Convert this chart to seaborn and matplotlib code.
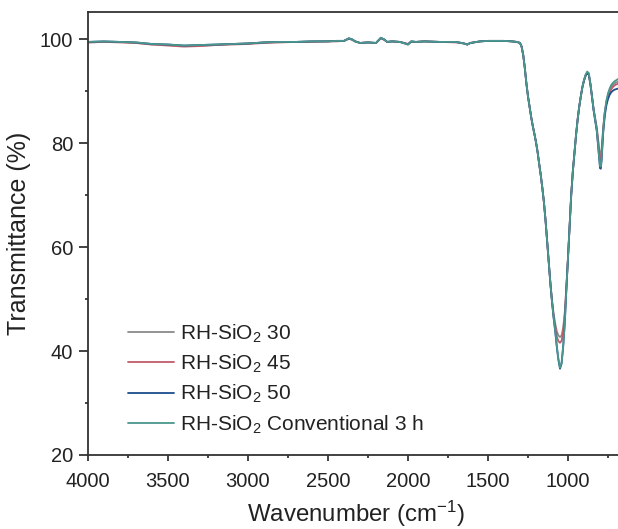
import numpy as np
import pandas as pd
import matplotlib
matplotlib.use("Agg")
import matplotlib.pyplot as plt
import seaborn as sns

# ---- data ----
wavenumber = [4000, 3900, 3800, 3700, 3600, 3500, 3400, 3300, 3200, 3100, 3000,
              2900, 2800, 2700, 2600, 2500, 2450, 2400, 2370, 2350, 2330, 2300,
              2250, 2200, 2170, 2150, 2130, 2100, 2050, 2000, 1980, 1950, 1900,
              1800, 1700, 1650, 1630, 1610, 1550, 1500, 1450, 1400, 1350, 1320,
              1300, 1290, 1280, 1270, 1260, 1250, 1240, 1230, 1220, 1210, 1200,
              1190, 1180, 1170, 1160, 1150, 1140, 1130, 1120, 1110, 1100, 1090,
              1080, 1070, 1060, 1050, 1040, 1030, 1020, 1010, 1000, 990, 980,
              970, 960, 950, 940, 930, 920, 910, 900, 890, 880, 870, 860, 850,
              840, 830, 820, 810, 800, 795, 790, 780, 770, 760, 750, 740, 730,
              720, 710, 700, 690, 685]

base_teal = [99.5, 99.6, 99.5, 99.4, 99.1, 99.0, 98.8, 98.9, 99.0, 99.1, 99.2,
             99.4, 99.5, 99.5, 99.6, 99.6, 99.7, 99.7, 100.2, 100.0, 99.6, 99.3,
             99.4, 99.3, 100.3, 100.0, 99.5, 99.6, 99.5, 99.0, 99.6, 99.5, 99.6,
             99.5, 99.5, 99.2, 99.0, 99.3, 99.6, 99.7, 99.7, 99.7, 99.6, 99.5,
             99.3, 98.6, 97.0, 94.5, 91.5, 89.0, 87.0, 85.0, 83.3, 81.8, 80.2,
             78.3, 76.0, 73.8, 71.3, 68.5, 65.0, 61.0, 57.0, 53.0, 49.5, 46.5,
             44.0, 41.0, 38.5, 36.8, 37.8, 41.0, 45.5, 52.0, 58.0, 64.0, 70.0,
             74.5, 78.0, 81.5, 84.5, 87.0, 89.0, 90.8, 92.2, 93.2, 93.8, 93.5,
             91.5, 89.0, 86.5, 84.5, 82.5, 79.0, 75.6, 75.5, 77.0, 82.5, 86.0,
             88.2, 89.6, 90.5, 91.2, 91.6, 91.9, 92.1, 92.3, 92.4]

rh30 = [99.4, 99.5, 99.5, 99.3, 99.0, 98.9, 98.7, 98.8, 98.9, 99.1, 99.2,
        99.4, 99.5, 99.5, 99.6, 99.6, 99.7, 99.7, 100.1, 100.0, 99.6, 99.3,
        99.4, 99.3, 100.2, 100.0, 99.5, 99.6, 99.5, 99.1, 99.6, 99.5, 99.6,
        99.5, 99.5, 99.2, 99.0, 99.3, 99.6, 99.7, 99.7, 99.7, 99.6, 99.5,
        99.3, 98.6, 97.0, 94.5, 91.5, 89.0, 87.0, 85.0, 83.3, 81.8, 80.2,
        78.3, 76.0, 73.8, 71.3, 68.5, 65.0, 61.0, 57.0, 53.0, 49.8, 47.2,
        45.3, 43.8, 43.0, 42.7, 43.0, 44.5, 47.5, 52.5, 58.0, 64.0, 70.0,
        74.5, 78.0, 81.5, 84.5, 87.0, 89.0, 90.8, 92.0, 93.0, 93.5, 93.2,
        91.4, 89.0, 86.6, 84.8, 83.0, 80.3, 77.7, 77.6, 78.8, 83.0, 86.0,
        88.0, 89.3, 90.2, 90.8, 91.2, 91.5, 91.7, 91.8, 91.9]

rh45 = [99.4, 99.5, 99.4, 99.3, 99.0, 98.8, 98.6, 98.7, 98.9, 99.0, 99.1,
        99.3, 99.4, 99.5, 99.5, 99.6, 99.6, 99.7, 100.1, 99.9, 99.6, 99.3,
        99.4, 99.3, 100.2, 99.9, 99.5, 99.6, 99.5, 99.1, 99.5, 99.5, 99.6,
        99.5, 99.4, 99.2, 99.0, 99.3, 99.6, 99.7, 99.7, 99.7, 99.6, 99.5,
        99.3, 98.6, 97.0, 94.5, 91.5, 89.0, 87.0, 85.0, 83.3, 81.8, 80.2,
        78.3, 76.0, 73.8, 71.3, 68.5, 65.0, 61.0, 57.0, 53.0, 49.6, 46.8,
        44.7, 42.8, 41.9, 41.6, 42.0, 43.8, 47.0, 52.3, 58.0, 64.0, 70.0,
        74.5, 78.0, 81.5, 84.5, 87.0, 89.0, 90.8, 92.1, 93.1, 93.6, 93.3,
        91.4, 89.0, 86.5, 84.6, 82.7, 79.8, 76.6, 76.5, 78.0, 82.8, 85.9,
        87.7, 89.0, 89.8, 90.4, 90.8, 91.1, 91.3, 91.4, 91.5]

rh50 = [99.5, 99.6, 99.5, 99.4, 99.1, 99.0, 98.8, 98.9, 99.0, 99.1, 99.2,
        99.4, 99.5, 99.5, 99.6, 99.6, 99.7, 99.7, 100.2, 100.0, 99.6, 99.3,
        99.4, 99.3, 100.3, 100.0, 99.5, 99.6, 99.5, 99.0, 99.6, 99.5, 99.6,
        99.5, 99.5, 99.2, 99.0, 99.3, 99.6, 99.7, 99.7, 99.7, 99.6, 99.5,
        99.3, 98.6, 97.0, 94.5, 91.5, 89.0, 87.0, 85.0, 83.3, 81.8, 80.2,
        78.3, 76.0, 73.8, 71.3, 68.5, 65.0, 61.0, 57.0, 53.0, 49.5, 46.4,
        43.8, 40.8, 38.3, 36.6, 37.6, 40.9, 45.4, 52.0, 58.0, 64.0, 70.0,
        74.5, 78.0, 81.5, 84.5, 87.0, 89.0, 90.8, 92.1, 93.0, 93.5, 93.2,
        91.3, 88.9, 86.3, 84.3, 82.3, 78.8, 75.2, 75.1, 76.7, 82.0, 85.3,
        87.3, 88.5, 89.3, 89.8, 90.1, 90.3, 90.4, 90.5, 90.5]

series_names = ["RH-SiO$_2$ 30", "RH-SiO$_2$ 45", "RH-SiO$_2$ 50",
                "RH-SiO$_2$ Conventional 3 h"]
series_values = [rh30, rh45, rh50, base_teal]
colors = ["#8a8a8a", "#c25a6a", "#1d4d8c", "#4a978e"]

x_ticks = [4000, 3500, 3000, 2500, 2000, 1500, 1000]
y_ticks = [20, 40, 60, 80, 100]

frames = []
for name, vals in zip(series_names, series_values):
    frames.append(pd.DataFrame({"wavenumber": wavenumber, "T": vals, "sample": name}))
df = pd.concat(frames, ignore_index=True)

sns.set_style("ticks")
plt.rcParams["font.family"] = ["Liberation Sans", "DejaVu Sans"]
plt.rcParams["mathtext.default"] = "regular"

fig = plt.figure(figsize=(6.18, 5.29), dpi=100)
W, H = 618, 529
left_px, right_px, top_px, bot_px = 88, 624, 12.3, 455
ax = fig.add_axes([left_px / W, 1 - bot_px / H, (right_px - left_px) / W,
                   (bot_px - top_px) / H])

sns.lineplot(data=df, x="wavenumber", y="T", hue="sample", palette=colors,
             hue_order=series_names, sort=False, estimator=None, lw=1.3,
             ax=ax, legend=True)

ax.set_xlim(4000, 650)
ax.set_ylim(20, 105.2)
ax.set_xticks(x_ticks)
ax.set_yticks(y_ticks)
ax.set_xticks([3750, 3250, 2750, 2250, 1750, 1250, 750], minor=True)
ax.set_yticks([30, 50, 70, 90], minor=True)
ax.tick_params(axis="y", which="major", length=6.5, width=1.2, labelsize=14.5,
               colors="#222222", pad=4.3)
ax.tick_params(axis="x", which="major", length=4.5, width=1.2, labelsize=14.5,
               colors="#222222", pad=8)
ax.tick_params(axis="both", which="minor", length=2.5, width=1.2, colors="#222222")
for s in ax.spines.values():
    s.set_linewidth(1.3)
    s.set_color("#333333")

ax.set_xlabel("Wavenumber (cm$^{-1}$)", fontsize=17.3, color="#222222", labelpad=5.5)
ax.set_ylabel("Transmittance (%)", fontsize=18, color="#222222", labelpad=6)

leg = ax.legend(loc="upper left", bbox_to_anchor=(0.059, 0.318), frameon=False,
                fontsize=15, handlelength=2.2, handletextpad=0.3,
                labelspacing=0.38, borderaxespad=0)
for t in leg.get_texts():
    t.set_color("#222222")

fig.savefig("out.png", dpi=100)
